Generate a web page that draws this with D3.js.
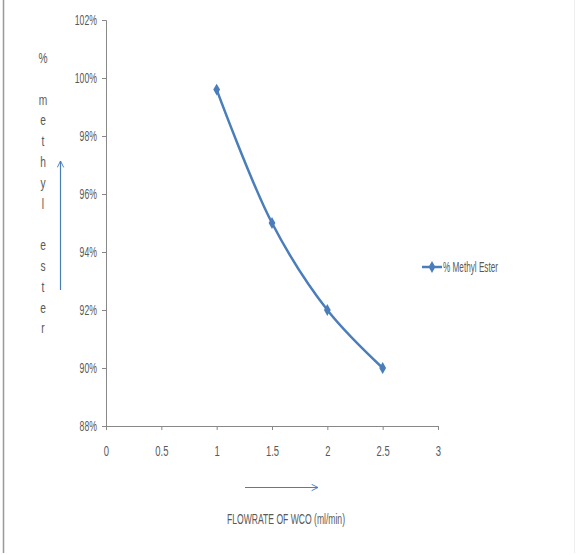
<!DOCTYPE html>
<html lang="en">
<head>
<meta charset="UTF-8">
<title>Methyl ester vs flowrate</title>
<style>
  body { margin: 0; background: #fff; }
  svg text { font-family: "Liberation Sans", Arial, sans-serif; fill: #595959; }
</style>
</head>
<body>
<script src="https://d3js.org/d3.v7.min.js"></script>
<script>
// data
const flowrate = [1, 1.5, 2, 2.5];
const esterPct = [99.6, 95, 92, 90];
const xTicks = [0, 0.5, 1, 1.5, 2, 2.5, 3];
const yTicks = [88, 90, 92, 94, 96, 98, 100, 102];
const seriesName = "% Methyl Ester";
const xTitle = "FLOWRATE OF WCO (ml/min)";
const yTitleLetters = ["%", "", "m", "e", "t", "h", "y", "l", "", "e", "s", "t", "e", "r"];

const width = 576, height = 555;
const blue = "#4a7ebb";

const svg = d3.select("body").append("svg")
    .attr("width", width)
    .attr("height", height);

// squeeze text horizontally so it looks like the narrow font in the original
function condense(sel, k) {
    sel.each(function() {
        const len = this.getComputedTextLength();
        if (len > 0) {
            d3.select(this).attr("textLength", len * k).attr("lengthAdjust", "spacingAndGlyphs");
        }
    });
}

// outer frame
svg.append("line").attr("x1", 3.5).attr("x2", 3.5).attr("y1", 0).attr("y2", 553)
    .attr("stroke", "#999").attr("stroke-width", 1.5);
svg.append("line").attr("x1", 574.5).attr("x2", 574.5).attr("y1", 0).attr("y2", 553)
    .attr("stroke", "#eee").attr("stroke-width", 1);

const x = d3.scaleLinear().domain([0, 3]).range([106, 438]);
const y = d3.scaleLinear().domain([88, 102]).range([426, 20]);

// y axis
const yAxis = svg.append("g")
    .attr("transform", "translate(106,0)")
    .call(d3.axisLeft(y).tickValues(yTicks).tickSize(4).tickPadding(5)
        .tickFormat(d => d + "%"));
yAxis.select(".domain").attr("stroke", "#888");
yAxis.selectAll(".tick line").attr("stroke", "#888");
yAxis.selectAll("text").attr("font-size", 14);
condense(yAxis.selectAll("text"), 0.62);

// x axis
const xAxis = svg.append("g")
    .attr("transform", "translate(0,426)")
    .call(d3.axisBottom(x).tickValues(xTicks).tickSize(4).tickPadding(15)
        .tickFormat(d3.format("")));
xAxis.select(".domain").attr("stroke", "#888");
xAxis.selectAll(".tick line").attr("stroke", "#888");
xAxis.selectAll("text").attr("font-size", 15);
condense(xAxis.selectAll("text"), 0.63);

// arrow marker
svg.append("defs").append("marker")
    .attr("id", "arr")
    .attr("viewBox", "0 0 10 10")
    .attr("refX", 9).attr("refY", 5)
    .attr("markerWidth", 8).attr("markerHeight", 8)
    .attr("markerUnits", "userSpaceOnUse")
    .attr("orient", "auto")
    .append("path")
    .attr("d", "M1,1 L9,5 L1,9")
    .attr("fill", "none")
    .attr("stroke", blue)
    .attr("stroke-width", 1.2);

// y title: stacked letters
const yLetters = svg.append("g").selectAll("text")
    .data(yTitleLetters)
    .enter().append("text")
    .attr("x", 43)
    .attr("y", (d, i) => 63 + i * 20.8)
    .attr("text-anchor", "middle")
    .attr("font-size", 15)
    .text(d => d);
condense(yLetters, 0.68);

svg.append("line")
    .attr("x1", 60.5).attr("x2", 60.5).attr("y1", 290).attr("y2", 161)
    .attr("stroke", blue).attr("stroke-width", 1.2)
    .attr("marker-end", "url(#arr)");

// x title
svg.append("line")
    .attr("x1", 245).attr("x2", 318).attr("y1", 487.5).attr("y2", 487.5)
    .attr("stroke", blue).attr("stroke-width", 1.2)
    .attr("marker-end", "url(#arr)");
svg.append("text")
    .attr("x", 227).attr("y", 524)
    .attr("font-size", 15.5)
    .attr("textLength", 118).attr("lengthAdjust", "spacingAndGlyphs")
    .text(xTitle);

// series
const pts = flowrate.map((f, i) => [f, esterPct[i]]);
const line = d3.line()
    .x(d => x(d[0]))
    .y(d => y(d[1]))
    .curve(d3.curveCatmullRom.alpha(0.5));
svg.append("path")
    .datum(pts)
    .attr("d", line)
    .attr("fill", "none")
    .attr("stroke", blue)
    .attr("stroke-width", 2.5);

const diamond = d3.symbol().type(d3.symbolDiamond).size(40);
svg.append("g").selectAll("path")
    .data(pts)
    .enter().append("path")
    .attr("d", diamond)
    .attr("transform", d => "translate(" + x(d[0]) + "," + y(d[1]) + ")")
    .attr("fill", blue);

// legend
const lg = svg.append("g").attr("transform", "translate(422,267)");
lg.append("line").attr("x1", 0).attr("x2", 20).attr("y1", 0).attr("y2", 0)
    .attr("stroke", blue).attr("stroke-width", 2.5);
lg.append("path").attr("d", diamond).attr("transform", "translate(10,0)").attr("fill", blue);
lg.append("text").attr("x", 21).attr("y", 5).attr("font-size", 14)
    .attr("textLength", 55).attr("lengthAdjust", "spacingAndGlyphs")
    .text(seriesName);
</script>
</body>
</html>
